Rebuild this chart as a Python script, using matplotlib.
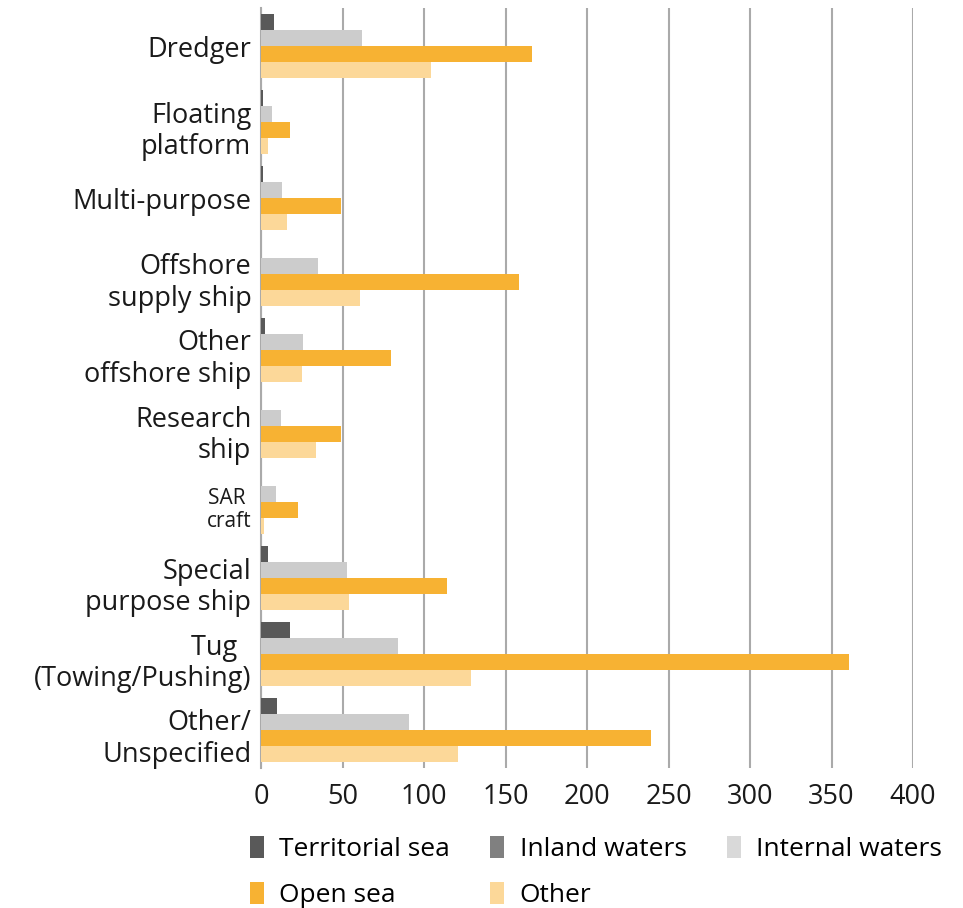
import numpy as np
import matplotlib.pyplot as plt
import matplotlib.transforms as mtransforms
from matplotlib.patches import Patch

plt.rcParams['font.family'] = ['Open Sans', 'DejaVu Sans']

# Vessel types, top to bottom
categories = ["Dredger", "Floating\nplatform", "Multi-purpose", "Offshore\nsupply ship",
              "Other\noffshore ship", "Research\nship", "SAR \ncraft", "Special\npurpose ship",
              "Tug  \n(Towing/Pushing)", "Other/\nUnspecified"]

territorial_sea = [8, 1, 1, 0, 2.5, 0, 0, 4, 18, 10]
inland_waters = [0, 0, 0, 0, 0, 0, 0, 0, 0, 0]
internal_waters = [62, 7, 13, 35, 26, 12, 9, 53, 84, 91]
open_sea = [166, 18, 49, 158, 80, 49, 23, 114, 361, 239]
other = [104, 4, 16, 61, 25, 34, 2, 54, 129, 121]

xticks = [0, 50, 100, 150, 200, 250, 300, 350, 400]

colors = {"Territorial sea": "#595959", "Inland waters": "#808080",
          "Internal waters": "#cccccc", "Open sea": "#f7b233", "Other": "#fcd899"}
legend_colors = {"Territorial sea": "#595959", "Inland waters": "#808080",
                 "Internal waters": "#d9d9d9", "Open sea": "#f7b233", "Other": "#fcd899"}

fs = 19.5

fig = plt.figure(figsize=(9.63, 9.08), dpi=100)
ax = fig.add_axes([261 / 963, 1 - 768 / 908, (913 - 261) / 963, 760 / 908])

y = np.arange(len(categories))
h = 0.21
series = [("Territorial sea", territorial_sea, -1.5), ("Inland waters", inland_waters, -1.5),
          ("Internal waters", internal_waters, -0.5), ("Open sea", open_sea, 0.5),
          ("Other", other, 1.5)]
for name, vals, off in series:
    ax.barh(y + off * h, vals, height=h, color=colors[name], linewidth=0, zorder=3)

ax.set_ylim(9.5, -0.5)
ax.set_xlim(0, 400)
ax.set_xticks(xticks)
ax.set_xticklabels([str(t) for t in xticks], fontsize=fs, color="#1a1a1a")
ax.tick_params(axis="x", length=0, pad=11)
ax.tick_params(axis="y", length=0, pad=7)
ax.set_yticks(y)
ax.set_yticklabels(categories, fontsize=fs, color="#1a1a1a", multialignment="right",
                   linespacing=1.18)
shift = mtransforms.ScaledTranslation(0, -4 / 100, fig.dpi_scale_trans)
for lbl in ax.get_yticklabels():
    if "\n" in lbl.get_text():
        lbl.set_transform(lbl.get_transform() + shift)
    if lbl.get_text().startswith("SAR"):
        lbl.set_fontsize(15)

ax.grid(axis="x", color="#aaaaaa", linewidth=1.5, zorder=0)
for s in ["top", "right", "bottom"]:
    ax.spines[s].set_visible(False)
ax.spines["left"].set_color("#aaaaaa")
ax.spines["left"].set_linewidth(1.5)

# legend is filled column by column, so order the handles to read row by row
order = ["Territorial sea", "Open sea", "Inland waters", "Other", "Internal waters"]
handles = [Patch(facecolor=legend_colors[n], label=n) for n in order]
fig.legend(handles=handles, loc="upper left", bbox_to_anchor=(250 / 963, 1 - 836 / 908),
           ncol=3, frameon=False, fontsize=19, handlelength=0.53, handleheight=0.9,
           handletextpad=0.58, columnspacing=1.53, labelspacing=0.76, borderaxespad=0,
           borderpad=0)

fig.savefig("out.png", dpi=100)
